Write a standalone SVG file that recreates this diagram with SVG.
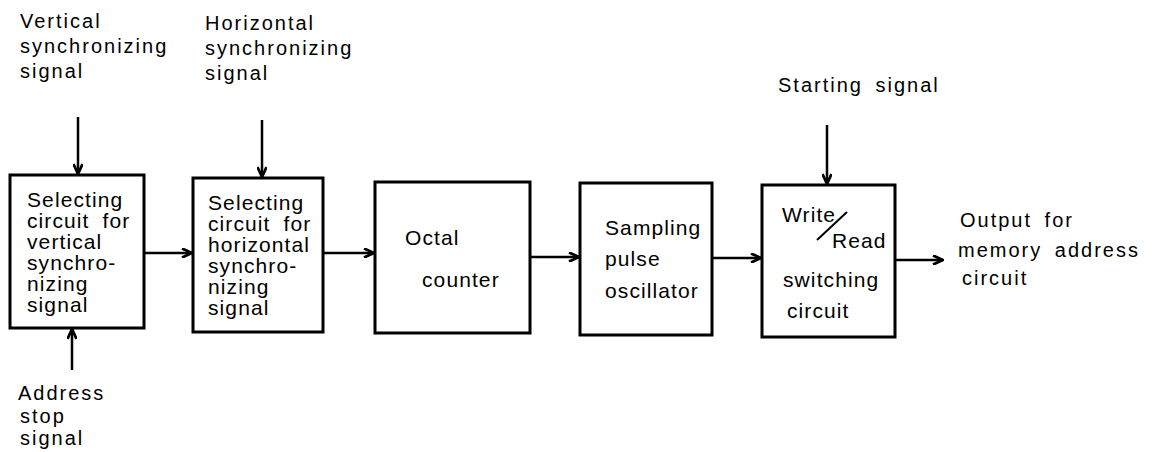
<svg xmlns="http://www.w3.org/2000/svg" width="1155" height="452" viewBox="0 0 1155 452">
<style>
text{font-family:"Liberation Sans",Arial,sans-serif;fill:#000}
.t{font-size:20px;letter-spacing:2px;word-spacing:5px}
.b{font-size:21px;letter-spacing:1.1px;word-spacing:6px}
.box{fill:#fff;stroke:#000;stroke-width:3}
.c{stroke:#000;stroke-width:2.5;fill:none}
</style>
<defs>
<marker id="ah" viewBox="0 0 12 10" refX="11" refY="5" markerWidth="12" markerHeight="10" markerUnits="userSpaceOnUse" orient="auto">
<path d="M1,0.5 L11,5 L1,9.5" fill="none" stroke="#000" stroke-width="2.8"/>
</marker>
</defs>
<rect width="1155" height="452" fill="#fff"/>
<g id="connectors">
<line class="c" x1="78" y1="117" x2="78" y2="174" marker-end="url(#ah)"/>
<line class="c" x1="262" y1="120" x2="262" y2="177" marker-end="url(#ah)"/>
<line class="c" x1="827" y1="125" x2="827" y2="184" marker-end="url(#ah)"/>
<line class="c" x1="72" y1="370" x2="72" y2="329" marker-end="url(#ah)"/>
<line class="c" x1="144" y1="253" x2="192" y2="253" marker-end="url(#ah)"/>
<line class="c" x1="323" y1="253" x2="374" y2="253" marker-end="url(#ah)"/>
<line class="c" x1="530" y1="257" x2="579" y2="257" marker-end="url(#ah)"/>
<line class="c" x1="712" y1="258" x2="761" y2="258" marker-end="url(#ah)"/>
<line class="c" x1="895" y1="260" x2="943" y2="260" marker-end="url(#ah)"/>
</g>
<g id="label-vsync">
<text class="t" x="20" y="28">Vertical</text>
<text class="t" x="20" y="53">synchronizing</text>
<text class="t" x="20" y="78">signal</text>
</g>
<g id="label-hsync">
<text class="t" x="205" y="30">Horizontal</text>
<text class="t" x="205" y="55">synchronizing</text>
<text class="t" x="205" y="80">signal</text>
</g>
<g id="label-start">
<text class="t" x="778" y="92">Starting signal</text>
</g>
<g id="label-addrstop">
<text class="t" x="18" y="400">Address</text>
<text class="t" x="20" y="423">stop</text>
<text class="t" x="20" y="445">signal</text>
</g>
<g id="label-output">
<text class="t" x="960" y="227">Output for</text>
<text class="t" x="958" y="257">memory address</text>
<text class="t" x="962" y="285">circuit</text>
</g>
<g id="node-vsel">
<rect class="box" x="10" y="175" width="134" height="153"/>
<text class="b" x="27" y="207">Selecting</text>
<text class="b" x="27" y="228">circuit for</text>
<text class="b" x="27" y="249">vertical</text>
<text class="b" x="27" y="270">synchro-</text>
<text class="b" x="27" y="291">nizing</text>
<text class="b" x="27" y="312">signal</text>
</g>
<g id="node-hsel">
<rect class="box" x="193" y="178" width="130" height="154"/>
<text class="b" x="208" y="210">Selecting</text>
<text class="b" x="208" y="231">circuit for</text>
<text class="b" x="208" y="252">horizontal</text>
<text class="b" x="208" y="273">synchro-</text>
<text class="b" x="208" y="294">nizing</text>
<text class="b" x="208" y="315">signal</text>
</g>
<g id="node-octal">
<rect class="box" x="375" y="182" width="155" height="151"/>
<text class="b" x="405" y="245">Octal</text>
<text class="b" x="422" y="287">counter</text>
</g>
<g id="node-sampling">
<rect class="box" x="580" y="183" width="132" height="152"/>
<text class="b" x="605" y="235">Sampling</text>
<text class="b" x="605" y="266">pulse</text>
<text class="b" x="605" y="298">oscillator</text>
</g>
<g id="node-wr">
<rect class="box" x="762" y="185" width="133" height="152"/>
<text class="b" x="782" y="222">Write</text>
<line x1="817" y1="240" x2="847" y2="212" stroke="#000" stroke-width="2"/>
<text class="b" x="832" y="248">Read</text>
<text class="b" x="783" y="287">switching</text>
<text class="b" x="787" y="318">circuit</text>
</g>
</svg>
